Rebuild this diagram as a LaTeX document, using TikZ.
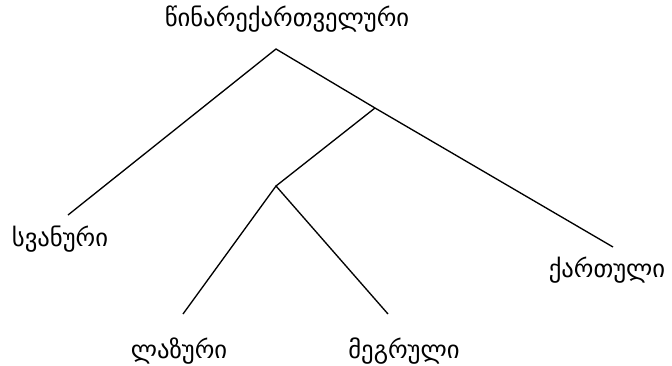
\documentclass[tikz,border=0pt]{standalone}
\usepackage{fontspec}
\newfontfamily\geofont[Script=Georgian]{DejaVu Sans}
\begin{document}
\begin{tikzpicture}[x=0.75pt,y=-0.75pt,
  lang/.style={font=\geofont\fontsize{18.5}{21}\selectfont, inner sep=0pt},
  branch/.style={line width=1pt}]
  \useasboundingbox (0,0) rectangle (672,365);
  % Labels
  \node[lang] (proto) at (287,19) {წინარექართველური};
  \node[lang] (svan) at (60,239) {სვანური};
  \node[lang] (kart) at (607,270) {ქართული};
  \node[lang] (laz) at (179,351) {ლაზური};
  \node[lang] (megr) at (404,351) {მეგრული};
  % Branch points
  \coordinate (root) at (276,49);
  \coordinate (kz) at (375,108);
  \coordinate (zan) at (276,186);
  \coordinate (svanend) at (68,215);
  \coordinate (kartend) at (613,247);
  \coordinate (lazend) at (183,314);
  \coordinate (megrend) at (388,314);

  \draw[branch] (svanend) -- (root) -- (kz) -- (kartend);
  \draw[branch] (kz) -- (zan);
  \draw[branch] (lazend) -- (zan) -- (megrend);
\end{tikzpicture}
\end{document}
